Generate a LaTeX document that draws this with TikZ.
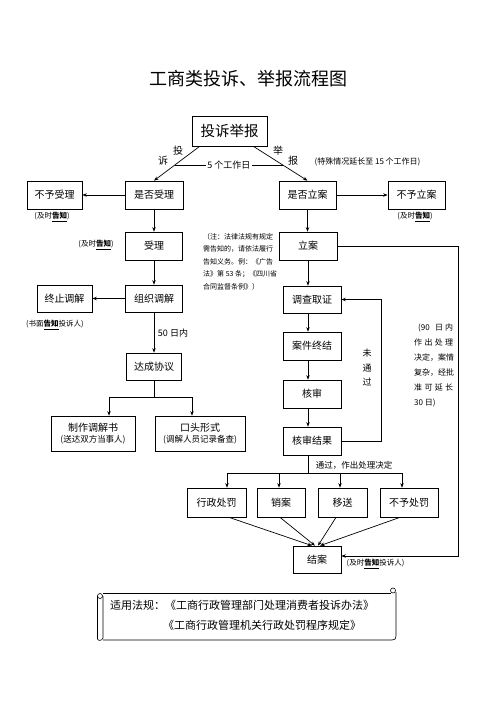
\documentclass[tikz,border=0pt]{standalone}
\usepackage{fontspec}
\setmainfont{Noto Sans CJK SC}
\usetikzlibrary{arrows.meta,calc}
\newcommand\fsz[2]{\fontsize{#1}{#2}\selectfont}
\newcommand\gz{\underline{\textbf{告知}}}
\newcommand\jline[1]{\makebox[39pt][s]{#1}}
\begin{document}
\begin{tikzpicture}[x=1pt,y=-1pt,
  box/.style={draw=black,line width=0.7pt,inner sep=0pt,font=\fsz{10}{12},align=center},
  arr/.style={-{Stealth[length=4.5pt,width=3.5pt]},line width=0.7pt},
  ln/.style={line width=0.7pt},
  lbl/.style={inner sep=0pt,font=\fsz{7.5}{9}},
  mid/.style={inner sep=0pt,font=\fsz{10}{12}},
  scroll/.style={line width=0.6pt}]
\useasboundingbox (0,0) rectangle (496,702);
% title
\node[font=\fsz{18}{22}] (title) at (248,79) {工商类投诉、举报流程图};
% boxes
\node[box,minimum width=75,minimum height=30,font=\fsz{14.5}{17}] (top) at (229.5,131) {投诉举报};
\node[box,minimum width=58,minimum height=28] (sfsl) at (154,195) {是否受理};
\node[box,minimum width=55,minimum height=28] (bysl) at (54.5,195) {不予受理};
\node[box,minimum width=57,minimum height=28] (sfla) at (307.5,195) {是否立案};
\node[box,minimum width=57,minimum height=28] (byla) at (416.5,195) {不予立案};
\node[box,minimum width=57,minimum height=28] (sl) at (154,246) {受理};
\node[box,minimum width=58,minimum height=28] (la) at (308,246) {立案};
\node[box,minimum width=57,minimum height=27] (zz) at (154,298.5) {组织调解};
\node[box,minimum width=55,minimum height=27] (zzt) at (64.5,298.5) {终止调解};
\node[box,minimum width=58,minimum height=27] (dc) at (312,299.5) {调查取证};
\node[box,minimum width=58,minimum height=28] (ajzj) at (312,346) {案件终结};
\node[box,minimum width=58,minimum height=28] (hs) at (312,394) {核审};
\node[box,minimum width=55,minimum height=27] (dcxy) at (154,366.5) {达成协议};
\node[box,minimum width=84,minimum height=35] (zztj) at (93,433.5) {制作调解书\\[-1pt]{\fsz{8.5}{10}(送达双方当事人)}};
\node[box,minimum width=90,minimum height=35] (ktxs) at (200,433.5) {口头形式\\[-1pt]{\fsz{8.5}{10}(调解人员记录备查)}};
\node[box,minimum width=58,minimum height=28] (hsjg) at (312,441) {核审结果};
\node[box,minimum width=59,minimum height=29] (xzcf) at (216.5,502.5) {行政处罚};
\node[box,minimum width=48,minimum height=29] (xa) at (281,502.5) {销案};
\node[box,minimum width=49,minimum height=29] (ys) at (342.5,502.5) {移送};
\node[box,minimum width=58,minimum height=29] (bycf) at (409,502.5) {不予处罚};
\node[box,minimum width=48,minimum height=27] (ja) at (317,559.5) {结案};
% top split
\coordinate (tL) at ($(top.south west)+(8,0)$);
\coordinate (tR) at ($(top.south east)+(-14,0)$);
\draw[arr] (tL) -- (sfsl.north);
\draw[arr] (tR) -- (sfla.north);
\path (tL) -- (sfsl.north) coordinate[pos=0.54] (c5l);
\path (tR) -- (sfla.north) coordinate[pos=0.54] (c5r);
\draw[ln] (c5l) -- (c5r);
\node[fill=white,font=\fsz{9}{11},inner sep=1.5pt] (d5) at ($(c5l)!0.5!(c5r)$) {5 个工作日};
\node[mid] (ltou) at (178,151) {投};
\node[mid] (lsu) at (163,161) {诉};
\node[mid] (lju) at (278,151) {举};
\node[mid] (lbao) at (293,161) {报};
\node[inner sep=0pt,font=\fsz{8}{10}] (ext) at (367.5,162) {(特殊情况延长至 15 个工作日)};
% left column
\draw[arr] (sfsl) -- (bysl);
\draw[arr] (sfla) -- (byla);
\node[lbl] (n1) at (52,217) {(及时\gz)};
\node[lbl] (n2) at (415,217) {(及时\gz)};
\draw[arr] (sfsl) -- (sl);
\node[lbl] (n3) at (96,245) {(及时\gz)};
\draw[arr] (sl) -- (zz);
\draw[arr] (zz) -- (zzt);
\node[lbl] (n4) at (55,325) {(书面\gz 投诉人)};
\draw[arr] (zz) -- (dcxy);
\node[inner sep=0pt,font=\fsz{9}{11}] (d50) at (173,333) {50 日内};
\coordinate (sp) at ($(dcxy.south)+(0,17)$);
\coordinate (spl) at (109,397);
\coordinate (spr) at (192,397);
\draw[ln] (dcxy.south) -- (sp);
\draw[ln] (spl) -- (spr);
\draw[arr] (spl) -- (spl |- zztj.north);
\draw[arr] (spr) -- (spr |- ktxs.north);
% note
\node[anchor=north west,inner sep=0pt,font=\fsz{7}{12.5},align=left] (note) at (203,233)
  {（注：法律法规有规定\\需告知的，请依法履行\\告知义务。例：《广告\\法》第 53 条；《四川省\\合同监督条例》）};
% right column
\coordinate (colR) at (308,0);
\draw[arr] (sfla.south) -- (sfla.south |- la.north);
\draw[arr] (la.south) -- (la.south |- dc.north);
\draw[arr] (dc.south -| colR) -- (ajzj.north -| colR);
\draw[arr] (ajzj.south -| colR) -- (hs.north -| colR);
\draw[arr] (hs.south -| colR) -- (hsjg.north -| colR);
% fail loop
\coordinate (lp) at (381,0);
\draw[arr] (hsjg.east) -| (lp |- dc.east) -- (dc.east);
\node[inner sep=0pt,font=\fsz{9}{11}] (w1) at (367,353) {未};
\node[inner sep=0pt,font=\fsz{9}{11}] (w2) at (367,368) {通};
\node[inner sep=0pt,font=\fsz{9}{11}] (w3) at (367,382) {过};
% big loop
\coordinate (rb) at (458,0);
\coordinate (jaR) at ($(ja.east)+(0,-3.5)$);
\draw[arr] (la.east) -| (rb |- jaR) -- (jaR);
\node[anchor=north west,inner sep=0pt,font=\fsz{8}{15},align=left] (d90) at (414,324)
  {\jline{\hspace{4pt}(90\hfill 日\hspace{2pt}内}\\\jline{作\hfill 出\hfill 处\hfill 理}\\决定，案情\\复杂，经批\\\jline{准\hfill 可\hfill 延\hfill 长}\\30 日)};
% result split
\coordinate (b1) at (227,473);
\coordinate (b2) at (279,473);
\coordinate (b3) at (340,473);
\coordinate (b4) at (402,473);
\draw[ln] (hsjg.south -| colR) -- (colR |- b1);
\draw[ln] (b1) -- (b4);
\draw[arr] (b1) -- (b1 |- xzcf.north);
\draw[arr] (b2) -- (b2 |- xa.north);
\draw[arr] (b3) -- (b3 |- ys.north);
\draw[arr] (b4) -- (b4 |- bycf.north);
\node[inner sep=0pt,font=\fsz{8.5}{10}] (pass) at (354,465) {通过，作出处理决定};
% converge
\draw[arr] ($(xzcf.south)+(12.5,0)$) -- ($(ja.north)+(-5,0)$);
\draw[arr] ($(xa.south)+(-1,0)$) -- ($(ja.north)+(-2,0)$);
\draw[arr] ($(ys.south)+(-6.5,0)$) -- ($(ja.north)+(1,0)$);
\draw[arr] ($(bycf.south)+(-9,0)$) -- ($(ja.north)+(3,0)$);
\node[lbl] (n5) at (375.5,564) {(及时\gz 投诉人)};
% scroll
\draw[scroll] (100,596) circle (2.5);
\draw[scroll] (97.5,596) -- (97.5,639) .. controls (98,641) and (102,641) .. (103,638) -- (103,596);
\draw[scroll] (103,593) -- (391,593);
\draw[scroll] (393,590.5) circle (2.5);
\draw[scroll] (396,592) -- (396,636) .. controls (396,639) and (395,640) .. (392,640) -- (103,640);
\node[anchor=west,inner sep=0pt,font=\fsz{11}{13}] (law1) at (110,605) {适用法规：《工商行政管理部门处理消费者投诉办法》};
\node[anchor=west,inner sep=0pt,font=\fsz{11}{13}] (law2) at (163,625) {《工商行政管理机关行政处罚程序规定》};
\end{tikzpicture}
\end{document}
